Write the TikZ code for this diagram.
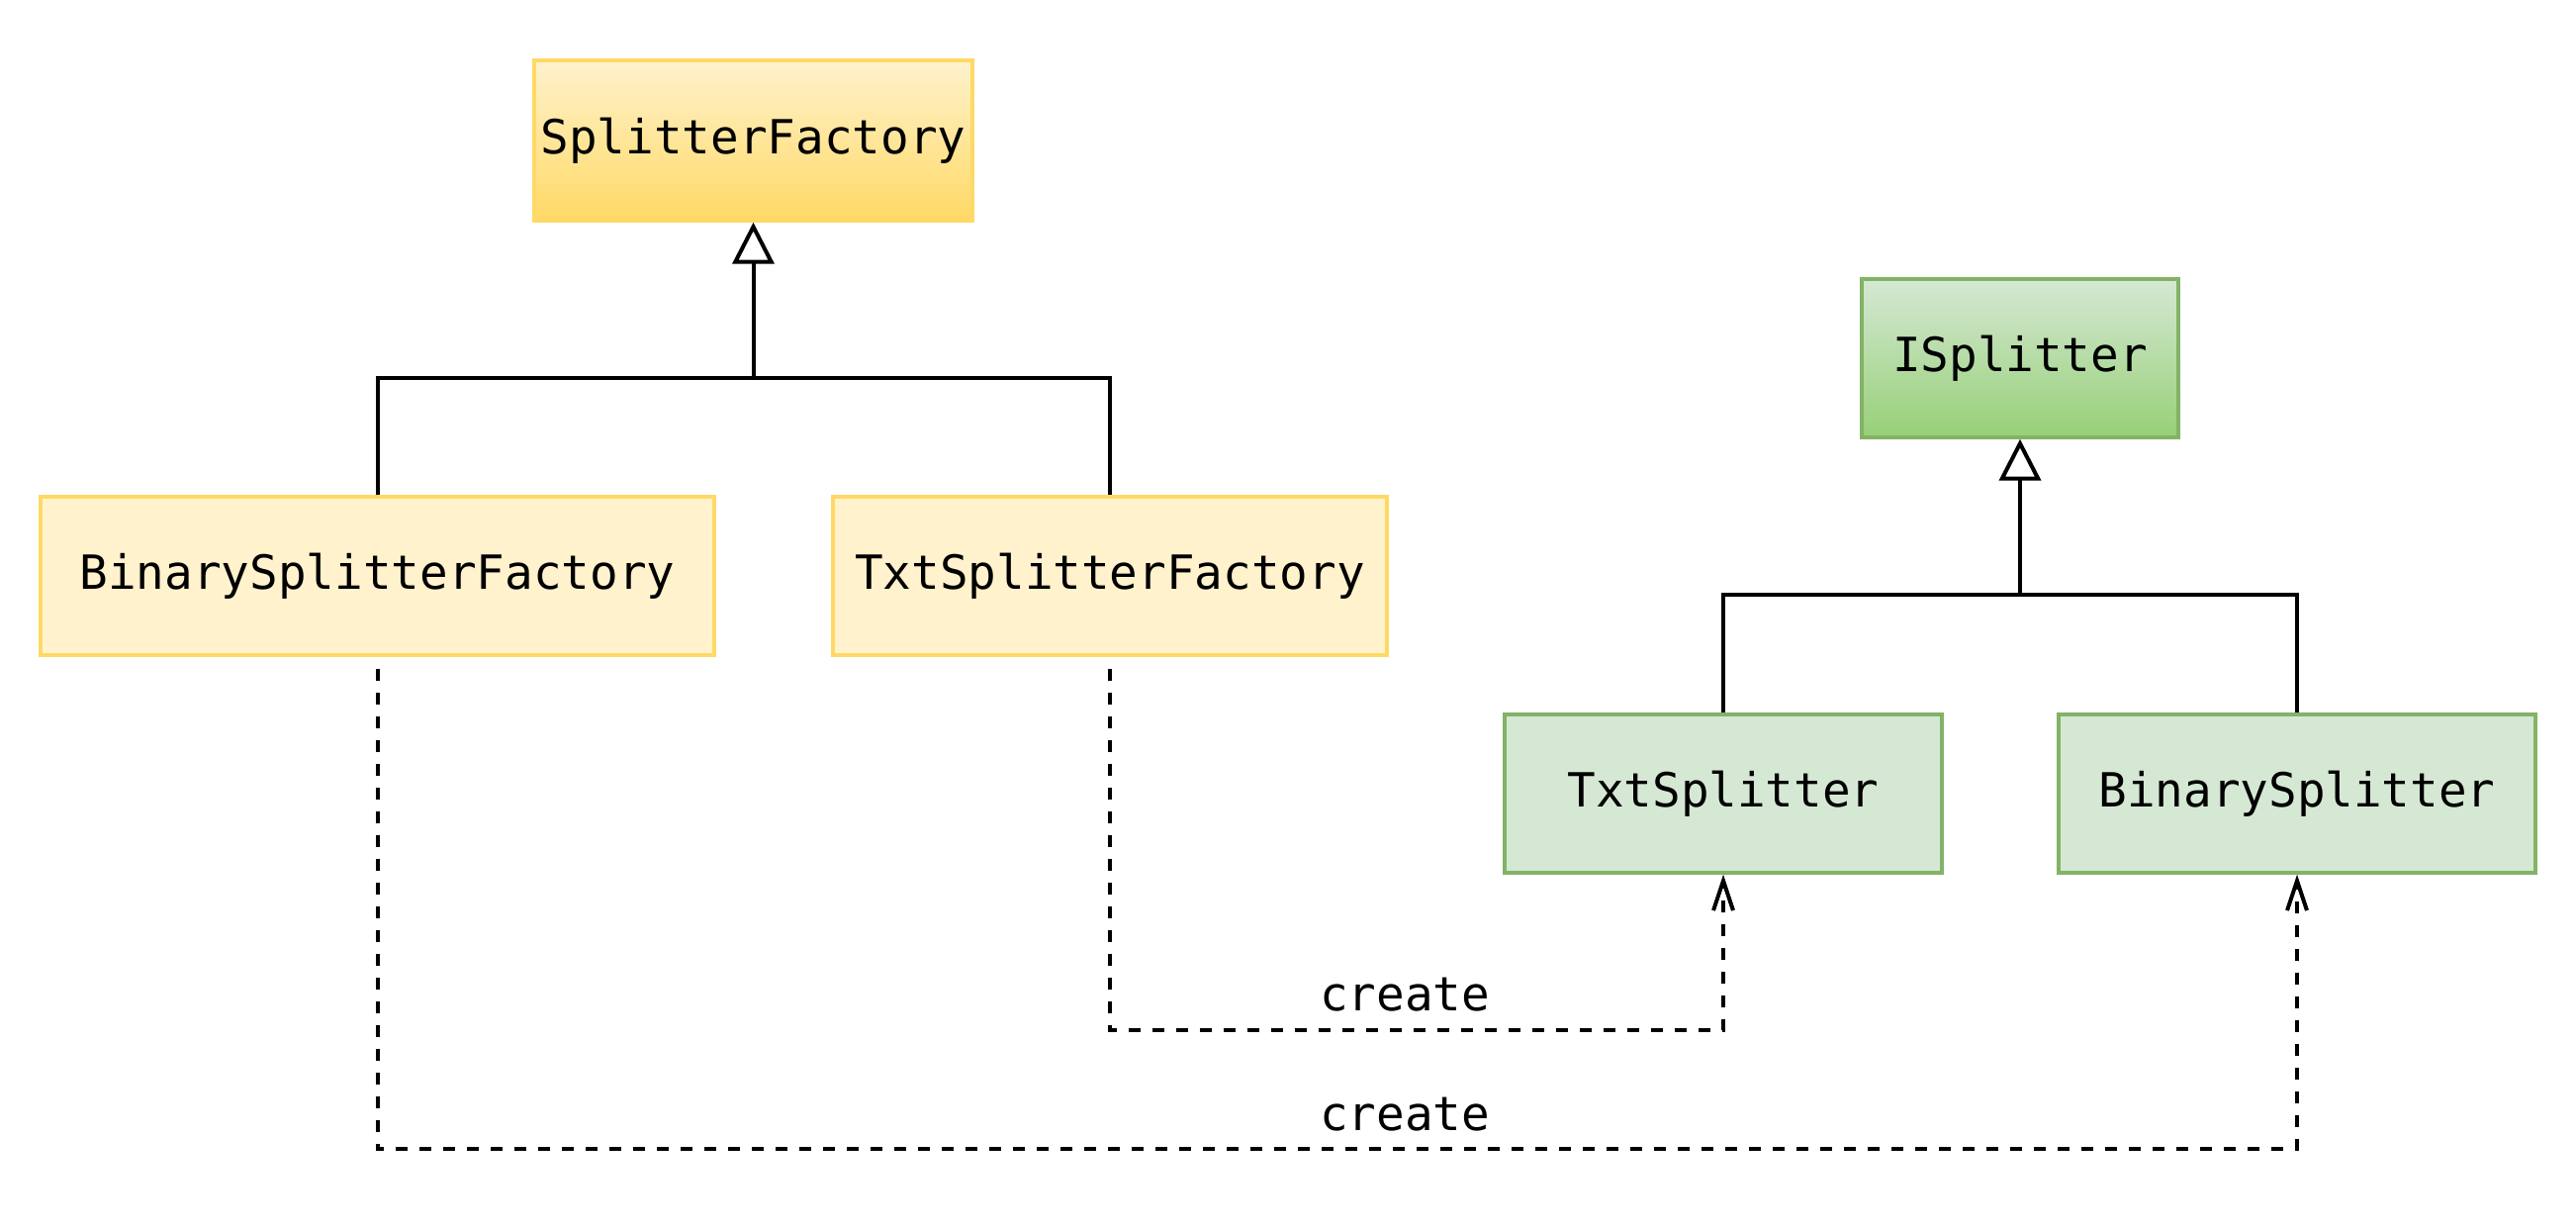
\documentclass[tikz,border=0pt]{standalone}
\usepackage{fontspec}
\newfontfamily\diagfont{DejaVu Sans Mono}
\usetikzlibrary{arrows.meta}
\definecolor{yfill}{HTML}{FFF2CC}
\definecolor{ydark}{HTML}{FFD966}
\definecolor{gfill}{HTML}{D5E8D4}
\definecolor{gdark}{HTML}{97D077}
\definecolor{gline}{HTML}{82B366}
\tikzset{
  box/.style={rectangle, line width=1.7pt, inner sep=0pt, font=\diagfont\fontsize{23.8}{28}\selectfont},
  ybox/.style={box, draw=ydark, fill=yfill},
  gbox/.style={box, draw=gline, fill=gfill},
  yhead/.style={box, draw=ydark, top color=yfill, bottom color=ydark},
  ghead/.style={box, draw=gline, top color=gfill, bottom color=gdark},
  conn/.style={line width=2pt, black},
  gen/.style={conn, -{Triangle[open, length=21pt, width=21pt, fill=white]}},
  dep/.style={conn, dash pattern=on 6pt off 6pt, -{Straight Barb[length=15pt, width=10pt]}},
  lbl/.style={font=\diagfont\fontsize{23.8}{28}\selectfont, inner sep=0pt, anchor=base}
}
\begin{document}
\begin{tikzpicture}[x=0.5pt, y=-0.5pt]
\useasboundingbox (0,0) rectangle (2604,1244);
% nodes
\node[yhead, minimum width=221.5pt, minimum height=81pt] (sf) at (761.5,142) {SplitterFactory};
\node[ybox, minimum width=340.5pt, minimum height=80pt] (bsf) at (381.5,582) {BinarySplitterFactory};
\node[ybox, minimum width=280pt, minimum height=80pt] (tsf) at (1122,582) {TxtSplitterFactory};
\node[ghead, minimum width=160pt, minimum height=80pt] (is) at (2042,362) {ISplitter};
\node[gbox, minimum width=221pt, minimum height=80pt] (ts) at (1742,802) {TxtSplitter};
\node[gbox, minimum width=241pt, minimum height=80pt] (bs) at (2322,802) {BinarySplitter};
% junctions
\coordinate (j1) at (761.5,382);
\coordinate (j2) at (2042,601);
\coordinate (d1) at (1742,1041);
\coordinate (d2) at (2322,1161);
% generalization
\draw[conn] (bsf.north) |- (j1) -| (tsf.north);
\draw[gen] (j1) -- (sf.south);
\draw[conn] (ts.north) |- (j2) -| (bs.north);
\draw[gen] (j2) -- (is.south);
% dependencies
\draw[dep, dash phase=6pt] (tsf.south) |- (d1) -- (ts.south);
\draw[dep, dash phase=6pt] (bsf.south) |- (d2) -- (bs.south);
% labels
\node[lbl] (l1) at (1420,1021) {create};
\node[lbl] (l2) at (1420,1142) {create};
\end{tikzpicture}
\end{document}
